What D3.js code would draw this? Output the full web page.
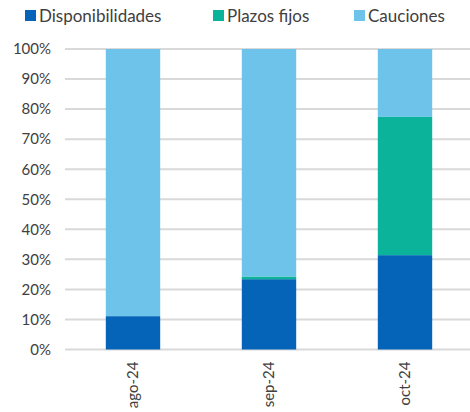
<!DOCTYPE html>
<html>
<head>
<meta charset="utf-8">
<script src="https://cdn.jsdelivr.net/npm/d3@7"></script>
<style>
  body { margin: 0; background: #fff; }
  text { font-family: Lato, "Open Sans", sans-serif; fill: #404040; }
</style>
</head>
<body>
<svg></svg>
<script>
"use strict";

const months = ["ago-24", "sep-24", "oct-24"];
const disponibilidades = [11.1, 23.4, 31.4];
const plazosFijos = [0, 0.9, 46.0];
const cauciones = [88.9, 75.7, 22.6];
const seriesNames = ["Disponibilidades", "Plazos fijos", "Cauciones"];
const colors = ["#0563b8", "#0bb39b", "#6ec3ea"];
const yTicks = [0, 10, 20, 30, 40, 50, 60, 70, 80, 90, 100];

const width = 470;
const height = 412;
const margin = { top: 49, right: 0, bottom: 62.5, left: 65 };

const svg = d3.select("svg").attr("width", width).attr("height", height);

const rows = months.map((m, i) => ({
  month: m,
  Disponibilidades: disponibilidades[i],
  "Plazos fijos": plazosFijos[i],
  Cauciones: cauciones[i]
}));

const stacked = d3.stack().keys(seriesNames)(rows);

const xScale = d3
  .scaleBand()
  .domain(months)
  .range([margin.left, 473])
  .paddingInner(0.6)
  .paddingOuter(0.3);

const yScale = d3
  .scaleLinear()
  .domain([0, 100])
  .range([height - margin.bottom, margin.top]);

// grid
svg
  .append("g")
  .selectAll("line")
  .data(yTicks)
  .enter()
  .append("line")
  .attr("x1", margin.left)
  .attr("x2", width)
  .attr("y1", (d) => yScale(d))
  .attr("y2", (d) => yScale(d))
  .attr("stroke", "#d9d9d9")
  .attr("stroke-width", 2);

// bars
svg
  .append("g")
  .selectAll("g")
  .data(stacked)
  .enter()
  .append("g")
  .attr("fill", (d, i) => colors[i])
  .selectAll("rect")
  .data((d) => d)
  .enter()
  .append("rect")
  .attr("x", (d) => xScale(d.data.month))
  .attr("width", xScale.bandwidth())
  .attr("y", (d) => yScale(d[1]))
  .attr("height", (d) => yScale(d[0]) - yScale(d[1]));

// y axis
const yAxis = d3
  .axisLeft(yScale)
  .tickValues(yTicks)
  .tickFormat((d) => d + "%")
  .tickSize(0)
  .tickPadding(0);

svg
  .append("g")
  .attr("transform", `translate(51,0)`)
  .call(yAxis)
  .call((g) => g.select(".domain").remove())
  .selectAll("text")
  .attr("font-size", 15)
  .attr("fill", "#404040");

// x axis
const xAxis = d3.axisBottom(xScale).tickSize(0).tickPadding(0);

svg
  .append("g")
  .attr("transform", `translate(0,${height - margin.bottom})`)
  .call(xAxis)
  .call((g) => g.select(".domain").remove())
  .selectAll("text")
  .attr("font-size", 15)
  .attr("fill", "#404040")
  .attr("text-anchor", "end")
  .attr("transform", "rotate(-90)")
  .attr("x", -12)
  .attr("y", 0)
  .attr("dy", "0.35em");

// legend
const legendX = [25, 213, 354];
const legend = svg
  .append("g")
  .selectAll("g")
  .data(seriesNames)
  .enter()
  .append("g")
  .attr("transform", (d, i) => `translate(${legendX[i]},10)`);

legend
  .append("rect")
  .attr("width", 11)
  .attr("height", 11)
  .attr("fill", (d, i) => colors[i]);

legend
  .append("text")
  .attr("x", 14)
  .attr("y", 6)
  .attr("dy", "0.35em")
  .attr("font-size", 17)
  .text((d) => d);
</script>
</body>
</html>
